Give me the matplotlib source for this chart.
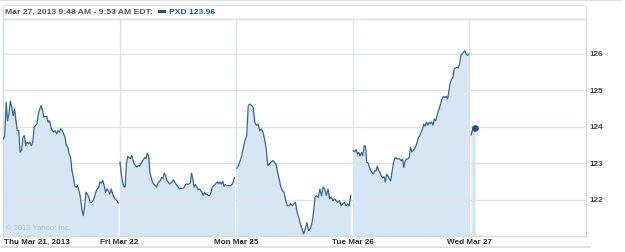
import matplotlib
matplotlib.use("Agg")
import matplotlib.pyplot as plt
import numpy as np
from matplotlib.patches import Rectangle
from matplotlib.lines import Line2D

# ---- data ----
day_labels = ["Thu Mar 21, 2013", "Fri Mar 22", "Mon Mar 25", "Tue Mar 26", "Wed Mar 27"]
y_ticks = [122, 123, 124, 125, 126]

thu = [123.66, 123.75, 124.67, 124.16, 124.35, 124.70, 124.53, 124.30, 124.48, 124.16, 123.89, 123.89,
       123.30, 123.34, 123.71, 123.75, 123.48, 123.57, 123.53, 123.57, 123.48, 123.57, 123.98, 124.03,
       124.07, 124.35, 124.48, 124.58, 124.44, 124.26, 124.28, 124.28, 124.12, 124.16, 123.98, 123.89,
       123.85, 123.89, 123.80, 123.89, 123.85, 123.94, 123.89, 123.80, 123.71, 123.48, 123.44, 123.25,
       123.16, 122.79, 122.61, 122.38, 122.33, 122.38, 122.24, 122.06, 121.74, 121.56, 121.79, 122.20,
       122.15, 122.06, 121.92, 121.92, 121.97, 122.06, 122.20, 122.29, 122.33, 122.48, 122.45, 122.52,
       122.38, 122.20, 122.29, 122.24, 122.15, 122.29, 122.15, 122.06, 122.01, 121.97, 121.91]

fri = [123.03, 122.71, 122.48, 122.36, 122.34, 122.98, 123.18, 123.15, 123.12, 123.21, 123.07, 122.98,
       122.93, 122.89, 122.93, 122.91, 122.98, 123.03, 123.09, 123.15, 123.12, 123.27, 123.21, 122.75,
       122.61, 122.48, 122.43, 122.38, 122.34, 122.43, 122.48, 122.52, 122.61, 122.57, 122.72, 122.66,
       122.52, 122.48, 122.43, 122.45, 122.48, 122.54, 122.48, 122.43, 122.38, 122.32, 122.29, 122.31,
       122.31, 122.32, 122.38, 122.43, 122.41, 122.43, 122.45, 122.72, 122.57, 122.34, 122.41, 122.36,
       122.26, 122.29, 122.25, 122.20, 122.11, 122.20, 122.14, 122.15, 122.11, 122.11, 122.20, 122.34,
       122.38, 122.41, 122.45, 122.48, 122.43, 122.48, 122.43, 122.50, 122.36, 122.41, 122.38, 122.38,
       122.38, 122.38, 122.41, 122.48, 122.60]

mon = [122.86, 122.93, 123.07, 123.20, 123.43, 123.62, 123.75, 124.58, 124.62, 124.58, 124.53, 124.12,
       124.03, 124.07, 123.89, 123.94, 123.85, 123.66, 123.39, 122.93, 122.98, 123.02, 123.07, 123.02,
       122.98, 122.75, 122.56, 122.34, 122.24, 122.20, 121.97, 121.83, 121.83, 121.88, 121.83, 121.88,
       121.92, 121.65, 121.51, 121.33, 121.19, 121.06, 121.19, 121.37, 121.15, 121.19, 121.33, 121.61,
       122.06, 122.10, 122.06, 122.29, 122.10, 122.34, 122.29, 122.11, 122.29, 122.02, 122.06, 121.97,
       122.02, 121.97, 121.92, 121.97, 121.83, 121.88, 121.92, 121.83, 121.88, 121.83, 122.11]

tue = [123.34, 123.31, 123.37, 123.25, 123.29, 123.20, 123.29, 123.20, 123.47, 123.47, 123.02, 123.00,
       122.88, 122.79, 122.74, 122.70, 122.79, 122.79, 122.92, 122.79, 122.74, 122.65, 122.60, 122.63,
       122.48, 122.70, 122.65, 122.56, 122.51, 122.74, 122.97, 123.13, 123.15, 123.11, 123.13, 123.11,
       123.06, 123.11, 122.88, 123.06, 123.11, 123.11, 123.15, 123.43, 123.31, 123.34, 123.38, 123.46,
       123.57, 123.70, 123.75, 123.84, 123.93, 124.07, 124.01, 124.12, 124.04, 124.12, 124.07, 124.13,
       124.04, 124.21, 124.16, 124.30, 124.43, 124.53, 124.66, 124.77, 124.83, 124.80, 124.83, 124.76,
       124.98, 125.21, 125.30, 125.35, 125.58, 125.60, 125.63, 125.60, 125.72, 125.95, 125.99, 126.04,
       126.08, 125.99, 125.95, 125.99]

wed = [123.77, 123.88, 124.00, 123.97, 123.96]

ticker = "PXD"
last_price = 123.96
header = "Mar 27, 2013 9:48 AM - 9:53 AM EDT:"

# fraction of each day's slot covered by its samples
coverage = [(0.003, 0.988), (0.003, 0.985), (0.006, 0.983), (0.006, 0.995), (0.015, 0.05)]
days = [thu, fri, mon, tue, wed]

# ---- styles ----
W, H = 625, 253
FONT = "Liberation Sans"
fig = plt.figure(figsize=(W / 100, H / 100), dpi=100)
fig.patch.set_facecolor("white")

ax_l, ax_r, ax_t, ax_b = 3, 586, 20, 237
ax = fig.add_axes([ax_l / W, 1 - ax_b / H, (ax_r - ax_l) / W, (ax_b - ax_t) / H])
ymin, ymax = 121.0, 126.95
ax.set_xlim(0, 5)
ax.set_ylim(ymin, ymax)

line_c = "#35669b"
fill_c = "#d6e6f2"
grid_c = "#dde4eb"

for i, (vals, (s, e)) in enumerate(zip(days, coverage)):
    x = np.linspace(i + s, i + e, len(vals))
    ax.fill_between(x, vals, ymin, color=fill_c, lw=0, zorder=1)
    ax.plot(x, vals, color=line_c, lw=0.9, zorder=3)

# last point marker
x_w = np.linspace(4 + coverage[4][0], 4 + coverage[4][1], len(wed))
ax.plot([x_w[-1]], [wed[-1]], marker="o", ms=3.8, color="#1f4f86", zorder=4)

for yv in y_ticks:
    ax.axhline(yv, color=grid_c, lw=1, zorder=2)
for xv in range(1, 5):
    ax.axvline(xv, color=grid_c, lw=1, zorder=2)

for sp in ax.spines.values():
    sp.set_color("#d3dbe3")
    sp.set_linewidth(1)
ax.set_xticks([])
ax.set_yticks([])

# y tick labels on right
for yv in y_ticks:
    ax.text(5 + 4 / 116.6, yv, str(yv), ha="left", va="center", fontsize=5.9, family=FONT,
            color="#4a4a4a", fontweight="bold", clip_on=False)

# x labels
lab_y = 1 - 242.5 / H
for i, lab in enumerate(day_labels):
    xf = (ax_l + i * (ax_r - ax_l) / 5) / W
    if i == 0:
        fig.text(4 / W, lab_y, lab, ha="left", va="center", fontsize=5.9, family=FONT,
                 fontweight="bold", color="#333333")
    else:
        fig.text(xf, lab_y, lab, ha="center", va="center", fontsize=5.9, family=FONT,
                 fontweight="bold", color="#333333")

# watermark
fig.text(6 / W, 1 - 229 / H, "\u00a9 2013 Yahoo! Inc.", fontsize=5.5, family=FONT,
         color="#b5c3cf", ha="left", va="center", zorder=5)

# header box and separators
fig.patches.append(Rectangle((ax_l / W, 1 - 20 / H), (ax_r - ax_l) / W, 14.5 / H,
                             transform=fig.transFigure, fill=False, edgecolor="#dde3ea", lw=1))
fig.lines.append(Line2D([0, 620 / W], [1 - 1.2 / H, 1 - 1.2 / H], transform=fig.transFigure,
                        color="#e2e2e2", lw=1))
fig.lines.append(Line2D([0, 590 / W], [1 - 248 / H, 1 - 248 / H], transform=fig.transFigure,
                        color="#dadada", lw=1.2))

t = fig.text(5 / W, 1 - 12.5 / H, header, fontsize=6.1, family=FONT, color="#5a5a5a",
             fontweight="bold", ha="left", va="center")
fig.canvas.draw()
bb = t.get_window_extent()
xr = bb.x1 + 5
fig.patches.append(Rectangle((xr / W, 1 - 14 / H), 8 / W, 3.5 / H, transform=fig.transFigure,
                             color="#1f4f86", lw=0))
fig.text((xr + 11) / W, 1 - 12.5 / H, f"{ticker} {last_price:.2f}", fontsize=6.1, family=FONT,
         color="#1f5a9a", fontweight="bold", ha="left", va="center")

fig.savefig("out.png", dpi=100, facecolor="white")
